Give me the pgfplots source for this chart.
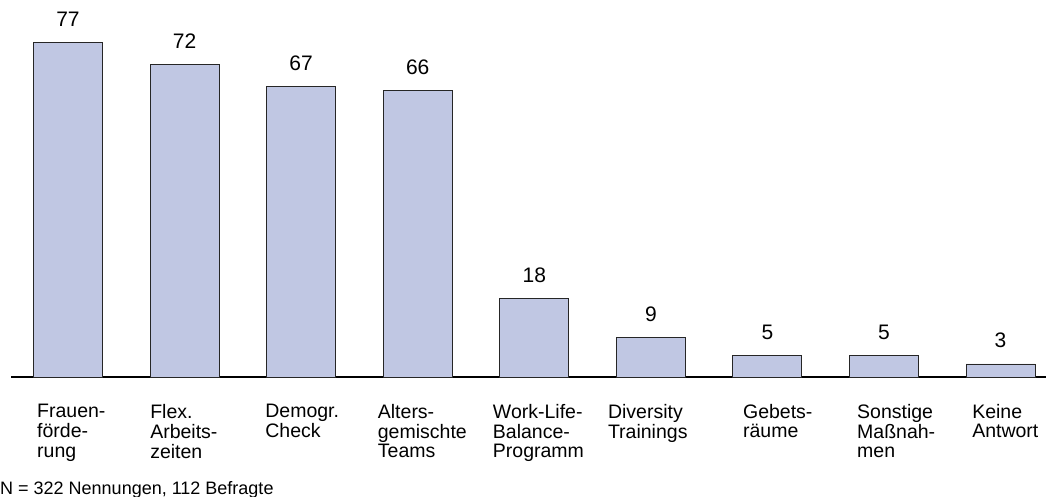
\documentclass[border=0pt]{standalone}
\usepackage{fontspec}
\setmainfont{Liberation Sans}
\usepackage{pgfplots}
\pgfplotsset{compat=1.18}
\definecolor{barfill}{HTML}{C0C7E3}
\newcommand{\lab}[2]{\hspace*{#1bp}\begin{tabular}[t]{@{}l@{}}#2\end{tabular}}
\begin{document}
\begin{tikzpicture}
\begin{axis}[
  name=a,
  scale only axis,
  width=1035bp, height=377bp,
  xmin=-0.489, xmax=8.39,
  ymin=0, ymax=86.87,
  axis x line*=bottom,
  axis y line=none,
  x axis line style={line width=1.2bp, black},
  ytick=\empty,
  xtick=data,
  major tick length=0pt,
  /pgf/number format/assume math mode=true,
  xticklabels={
    {\lab{14}{Frauen-\\förde-\\rung}},
    {\lab{10.5}{Flex.\\Arbeits-\\zeiten}},
    {\lab{9}{Demogr.\\Check}},
    {\lab{5}{Alters-\\gemischte\\Teams}},
    {\lab{3.5}{Work-Life-\\Balance-\\Programm}},
    {\lab{2}{Diversity\\Trainings}},
    {\lab{20.5}{Gebets-\\räume}},
    {\lab{18}{Sonstige\\Maßnah-\\men}},
    {\lab{16.5}{Keine\\Antwort}}
  },
  xticklabel style={anchor=north west, inner sep=0pt, xshift=-45bp, yshift=-27bp,
    font=\fontsize{19.5bp}{19.5bp}\selectfont},
  ybar,
  bar width=69bp,
  nodes near coords,
  every node near coord/.append style={anchor=base, inner sep=0pt, yshift=16bp,
    font=\fontsize{21bp}{23bp}\selectfont},
  clip=false,
]
\addplot[fill=barfill, draw=black!85, line width=0.9bp] coordinates {
  (0,77) (1,72) (2,67) (3,66) (4,18) (5,9) (6,5) (7,5) (8,3)
};
\end{axis}
\node[anchor=base west, inner sep=0pt, font=\fontsize{18bp}{20bp}\selectfont]
  at ([shift={(-11bp,-117bp)}]a.south west) {N = 322 Nennungen, 112 Befragte};
\pgfresetboundingbox
\path[use as bounding box] ([shift={(-11bp,-120bp)}]a.south west) rectangle (a.north east);
\end{tikzpicture}
\end{document}
